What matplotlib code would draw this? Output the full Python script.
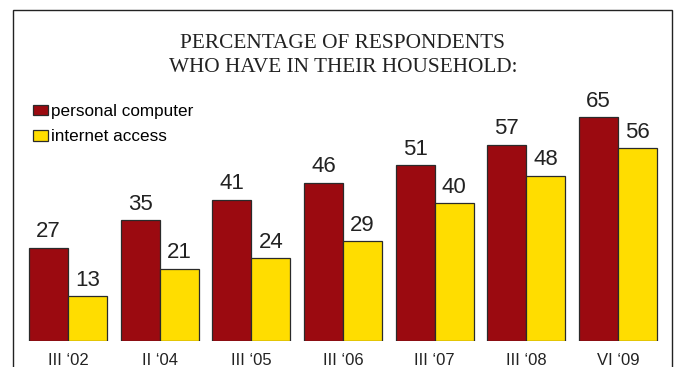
import matplotlib
matplotlib.use("Agg")
import matplotlib.pyplot as plt
from matplotlib.patches import Rectangle, Patch

periods = ["III \u201802", "II \u201804", "III \u201805", "III \u201806", "III \u201807", "III \u201808", "VI \u201809"]
computer = [27, 35, 41, 46, 51, 57, 65]
internet = [13, 21, 24, 29, 40, 48, 56]

RED = "#9B0A10"
YELLOW = "#FFDD00"
EDGE = "#2a2a2a"

W, H = 677, 367
fig = plt.figure(figsize=(W / 100, H / 100), dpi=100)

# outer frame (bottom edge runs off the canvas)
fig.patches.append(Rectangle((13 / W, -0.1), 659 / W, (H - 10) / H + 0.1,
                             transform=fig.transFigure, fill=False,
                             edgecolor="#222222", linewidth=1.0))

ax = fig.add_axes([13 / W, 26 / H, 660 / W, 310 / H])
ax.set_xlim(-0.6, 6.6)
ax.set_ylim(0, 90)
ax.axis("off")

bw = 0.425
x = list(range(len(periods)))
ax.bar([i - bw / 2 for i in x], computer, width=bw, color=RED, edgecolor=EDGE, linewidth=0.9)
ax.bar([i + bw / 2 for i in x], internet, width=bw, color=YELLOW, edgecolor=EDGE, linewidth=0.9)

lab_font = dict(family="Liberation Sans", fontsize=16, color="#222222", ha="center", va="bottom")
for i in x:
    ax.text(i - bw / 2, computer[i] + 1.6, str(computer[i]), **lab_font)
    ax.text(i + bw / 2, internet[i] + 1.6, str(internet[i]), **lab_font)
    ax.text(i, -3.4, periods[i], family="Liberation Sans", fontsize=12, color="#222222",
            ha="center", va="top")

fig.text(343 / W, 1 - 44 / H, "PERCENTAGE OF RESPONDENTS", family="Liberation Serif",
         fontsize=15.3, color="#222222", ha="center", va="center")
fig.text(343 / W, 1 - 67 / H, "WHO HAVE IN THEIR HOUSEHOLD:", family="Liberation Serif",
         fontsize=15.3, color="#222222", ha="center", va="center")

handles = [Patch(facecolor=RED, edgecolor=EDGE, linewidth=0.9, label="personal computer"),
           Patch(facecolor=YELLOW, edgecolor=EDGE, linewidth=0.9, label="internet access")]
fig.legend(handles=handles, loc="upper left", bbox_to_anchor=(33 / W, 1 - 104 / H),
           frameon=False, prop=dict(family="Liberation Sans", size=12.3),
           handlelength=0.9, handleheight=0.6, handletextpad=0.15, labelspacing=0.6,
           borderaxespad=0, borderpad=0)

fig.savefig("out.png", dpi=100, facecolor="white")
